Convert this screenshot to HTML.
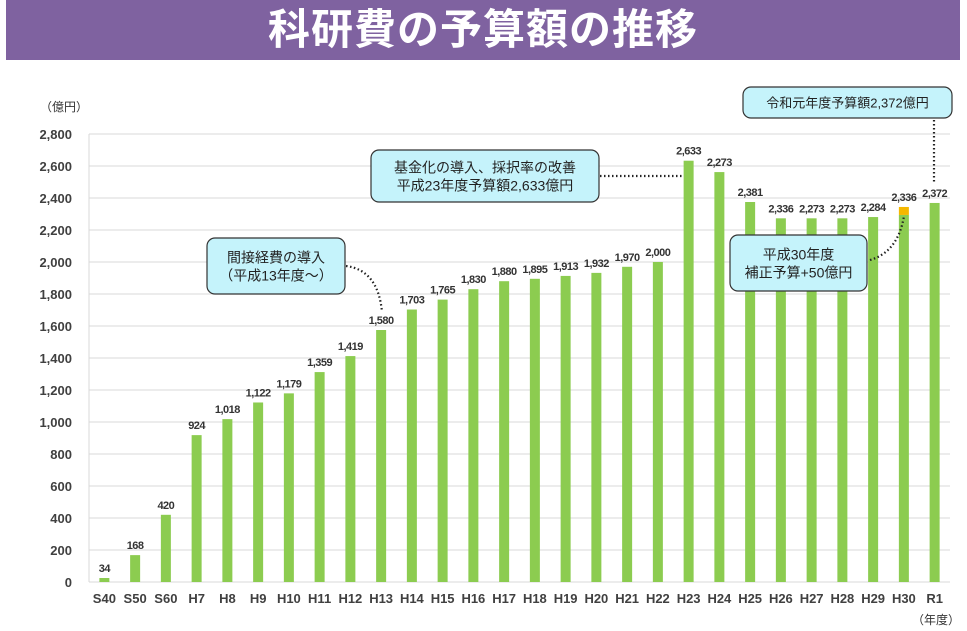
<!DOCTYPE html>
<html><head><meta charset="utf-8"><style>
body{margin:0;width:967px;height:631px;background:#fff;overflow:hidden;font-family:"Liberation Sans","Noto Sans CJK JP",sans-serif}
#title{position:absolute;left:6px;top:0;width:954px;height:60px;background:#7f62a0;color:#fff;text-align:center;font:bold 42px/60px "Liberation Sans","Noto Sans CJK JP",sans-serif;letter-spacing:1px}
</style></head><body>
<div id="title">科研費の予算額の推移</div>
<svg id="chart" width="967" height="631" style="position:absolute;left:0;top:0"></svg>
<script>
const categories=["S40","S50","S60","H7","H8","H9","H10","H11","H12","H13","H14","H15","H16","H17","H18","H19","H20","H21","H22","H23","H24","H25","H26","H27","H28","H29","H30","R1"];
const values=[25,168,420,918,1018,1122,1179,1312,1412,1575,1703,1765,1830,1880,1895,1913,1932,1970,2000,2633,2562,2375,2273,2273,2273,2281,2294,2369];
const labels=["34","168","420","924","1,018","1,122","1,179","1,359","1,419","1,580","1,703","1,765","1,830","1,880","1,895","1,913","1,932","1,970","2,000","2,633","2,273","2,381","2,336","2,273","2,273","2,284","2,336","2,372"];
const supplement=[0,0,0,0,0,0,0,0,0,0,0,0,0,0,0,0,0,0,0,0,0,0,0,0,0,0,50,0];
const yTicks=[0,200,400,600,800,1000,1200,1400,1600,1800,2000,2200,2400,2600,2800];
const NS="http://www.w3.org/2000/svg";
const svg=document.getElementById('chart');
const x0=89,x1=950,y0=582,yTop=134,yMax=2800;
const band=(x1-x0)/categories.length;
const X=i=>x0+band*(i+0.5);
const Y=v=>y0-(v/yMax)*(y0-yTop);
function mk(t,a,txt){const e=document.createElementNS(NS,t);for(const k in a)e.setAttribute(k,a[k]);if(txt!=null)e.textContent=txt;svg.appendChild(e);return e;}
yTicks.forEach(v=>{
 const g=mk('line',{x1:x0,x2:x1,y1:Y(v),y2:Y(v),stroke:'#d9d9d9','stroke-width':1});
 
 
 const t=mk('text',{x:72,y:Y(v)+5,'text-anchor':'end','font-size':13,'font-weight':'bold',fill:'#404040'},v.toLocaleString('en-US'));
 
 
});
const ax=mk('line',{x1:x0,x2:x0,y1:yTop,y2:y0,stroke:'#d9d9d9'});


categories.forEach((c,i)=>{
 const bw=10,cx=X(i);
 const b=mk('rect',{x:cx-bw/2,y:Y(values[i]),width:bw,height:y0-Y(values[i]),fill:'#8ccc50'});
 
 
 if(supplement[i]){
  const s=mk('rect',{x:cx-bw/2,y:Y(values[i]+supplement[i]),width:bw,height:Y(values[i])-Y(values[i]+supplement[i]),fill:'#f5b800'});
  
  
 }
 const top=values[i]+supplement[i];
 const l=mk('text',{x:cx,y:Y(top)-6,'text-anchor':'middle','font-size':11,'font-weight':'bold',fill:'#333','letter-spacing':'-0.5'},labels[i]);
 
 
 const xl=mk('text',{x:cx,y:603,'text-anchor':'middle','font-size':13,'font-weight':'bold',fill:'#404040'},c);
 
 
});
const yu=mk('text',{x:40,y:111,'font-size':12,fill:'#333'},'（億円）');


const xu=mk('text',{x:912,y:624,'font-size':12,fill:'#333'},'（年度）');


function box(name,x,y,w,h,lines,fs){
 const r=mk('rect',{x:x,y:y,width:w,height:h,rx:8,fill:'#c5f3fb',stroke:'#333','stroke-width':1.2});
 
 
 lines.forEach((t,k)=>{
  const e=mk('text',{x:x+w/2,y:y+h/2+fs*0.38+(k-(lines.length-1)/2)*(fs+4),'text-anchor':'middle','font-size':fs,fill:'#222'},t);
  
  
 });
}
function dots(name,d){const p=mk('path',{d:d,fill:'none',stroke:'#222','stroke-width':2.2,'stroke-dasharray':'1.5 2.5'});}
dots('callout-line-h23','M600 176 L682 176');
dots('callout-line-r1','M934 120 L934 182');
dots('callout-line-h13','M346 266 Q378 270 382 312');
dots('callout-line-h30','M870 260 Q898 252 904 216');
box('callout-h23',371,150,228,52,['基金化の導入、採択率の改善','平成23年度予算額2,633億円'],14);
box('callout-h13',207,238,138,56,['間接経費の導入','（平成13年度～）'],14);
box('callout-h30',730,235,137,56,['平成30年度','補正予算+50億円'],14);
box('callout-r1',743,87,209,31,['令和元年度予算額2,372億円'],13);
</script>
</body></html>
